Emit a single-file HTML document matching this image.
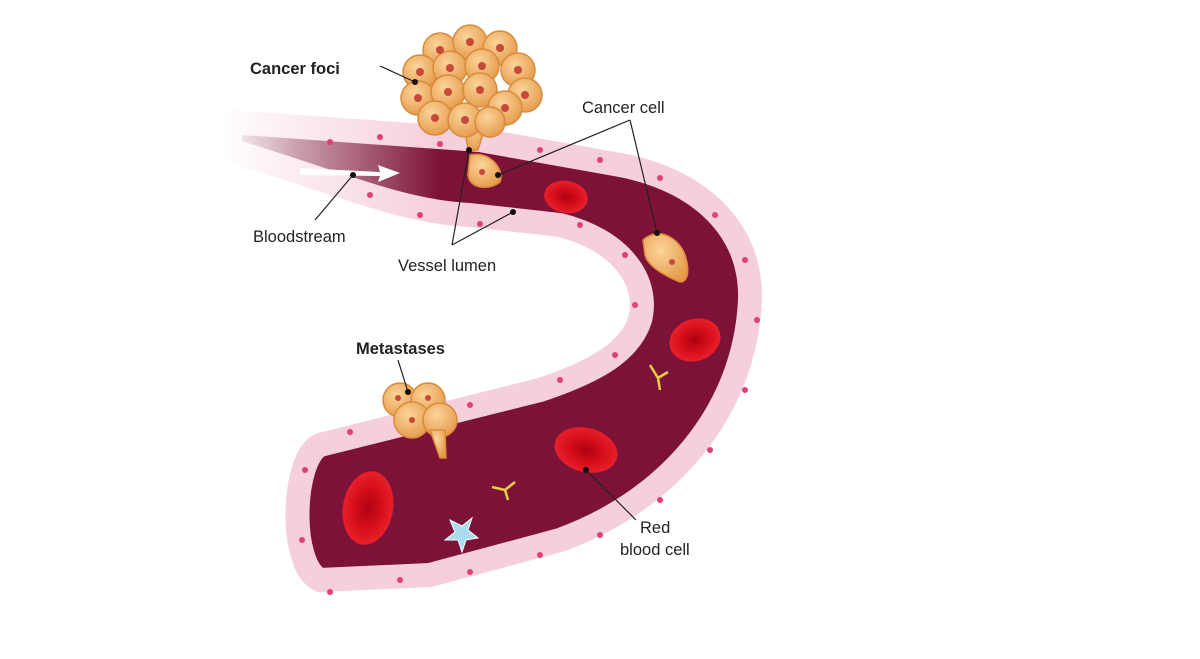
<!DOCTYPE html>
<html><head><meta charset="utf-8"><style>
html,body{margin:0;padding:0;background:#fff;width:1200px;height:659px;overflow:hidden}
text{font-family:"Liberation Sans",sans-serif;font-size:16.5px;fill:#222}
</style></head><body>
<svg width="1200" height="659" viewBox="0 0 1200 659" xmlns="http://www.w3.org/2000/svg">
<defs>
<linearGradient id="fade" x1="220" y1="0" x2="440" y2="0" gradientUnits="userSpaceOnUse">
<stop offset="0" stop-color="#fff" stop-opacity="1"/><stop offset="0.35" stop-color="#fff" stop-opacity="0.6"/><stop offset="1" stop-color="#fff" stop-opacity="0"/></linearGradient>
<radialGradient id="cell" cx="0.4" cy="0.35" r="0.7"><stop offset="0" stop-color="#fbd49a"/><stop offset="1" stop-color="#e59a4a"/></radialGradient>
<radialGradient id="rbc" cx="0.5" cy="0.5" r="0.5"><stop offset="0" stop-color="#b00010"/><stop offset="0.6" stop-color="#d8101c"/><stop offset="1" stop-color="#e8202a"/></radialGradient>
</defs>
<path d="M230 150 C330 180 400 212 470 215 L560 225 C620 240 650 280 640 320 C630 350 600 370 540 390 L400 425 L320 445 C292 458 288 565 320 580 L430 575 L560 540 C670 500 745 410 750 300 C752 230 700 180 620 165 L480 140 L230 122 Z" fill="#7d1238" stroke="#f6cfdc" stroke-width="24" stroke-linejoin="round"/>
<rect x="200" y="95" width="240" height="140" fill="url(#fade)"/>
<g fill="#e0407a">
<circle cx="330" cy="142" r="3"/><circle cx="380" cy="137" r="3"/><circle cx="440" cy="144" r="3"/><circle cx="540" cy="150" r="3"/><circle cx="600" cy="160" r="3"/><circle cx="660" cy="178" r="3"/><circle cx="715" cy="215" r="3"/><circle cx="745" cy="260" r="3"/><circle cx="757" cy="320" r="3"/><circle cx="745" cy="390" r="3"/><circle cx="710" cy="450" r="3"/><circle cx="660" cy="500" r="3"/><circle cx="600" cy="535" r="3"/><circle cx="540" cy="555" r="3"/><circle cx="470" cy="572" r="3"/><circle cx="400" cy="580" r="3"/><circle cx="330" cy="592" r="3"/><circle cx="302" cy="540" r="3"/><circle cx="305" cy="470" r="3"/><circle cx="350" cy="432" r="3"/><circle cx="470" cy="405" r="3"/><circle cx="560" cy="380" r="3"/><circle cx="615" cy="355" r="3"/><circle cx="635" cy="305" r="3"/><circle cx="625" cy="255" r="3"/><circle cx="580" cy="225" r="3"/><circle cx="480" cy="224" r="3"/><circle cx="420" cy="215" r="3"/><circle cx="370" cy="195" r="3"/>
</g>
<path d="M300 168 L380 172 L378 165 L400 173 L378 182 L380 176 L300 175Z" fill="#fff"/>
<ellipse cx="566" cy="197" rx="22" ry="16" fill="url(#rbc)" transform="rotate(10 566 197)"/>
<ellipse cx="695" cy="340" rx="26" ry="21" fill="url(#rbc)" transform="rotate(-20 695 340)"/>
<ellipse cx="586" cy="450" rx="32" ry="22" fill="url(#rbc)" transform="rotate(15 586 450)"/>
<ellipse cx="368" cy="508" rx="25" ry="37" fill="url(#rbc)" transform="rotate(10 368 508)"/>
<g stroke="#d98a3a" stroke-width="1.5" fill="url(#cell)">
<path d="M462 110 L468 150 L478 150 L490 110Z"/>
<circle cx="440" cy="50" r="17"/><circle cx="470" cy="42" r="17"/><circle cx="500" cy="48" r="17"/><circle cx="518" cy="70" r="17"/>
<circle cx="420" cy="72" r="17"/><circle cx="450" cy="68" r="17"/><circle cx="482" cy="66" r="17"/><circle cx="525" cy="95" r="17"/>
<circle cx="418" cy="98" r="17"/><circle cx="448" cy="92" r="17"/><circle cx="480" cy="90" r="17"/><circle cx="505" cy="108" r="17"/>
<circle cx="435" cy="118" r="17"/><circle cx="465" cy="120" r="17"/><circle cx="490" cy="122" r="15"/>
<path d="M470 155 C490 150 505 170 500 182 C490 190 470 190 468 175Z"/>
<path d="M643 240 C660 225 680 240 685 255 C690 270 688 282 680 282 C670 278 648 268 645 255Z"/>
<circle cx="400" cy="400" r="17"/><circle cx="428" cy="400" r="17"/><circle cx="412" cy="420" r="18"/><circle cx="440" cy="420" r="17"/>
<path d="M430 430 L440 458 L446 458 L445 430Z"/>
</g>
<g fill="#c8483a">
<circle cx="440" cy="50" r="4"/><circle cx="470" cy="42" r="4"/><circle cx="500" cy="48" r="4"/><circle cx="518" cy="70" r="4"/><circle cx="420" cy="72" r="4"/><circle cx="450" cy="68" r="4"/><circle cx="482" cy="66" r="4"/><circle cx="525" cy="95" r="4"/><circle cx="418" cy="98" r="4"/><circle cx="448" cy="92" r="4"/><circle cx="480" cy="90" r="4"/><circle cx="505" cy="108" r="4"/><circle cx="435" cy="118" r="4"/><circle cx="465" cy="120" r="4"/>
<circle cx="482" cy="172" r="3"/><circle cx="672" cy="262" r="3"/><circle cx="398" cy="398" r="3"/><circle cx="428" cy="398" r="3"/><circle cx="412" cy="420" r="3"/>
</g>
<g stroke="#e8d040" stroke-width="2.5" fill="none">
<path d="M650 365 L658 378 L668 372 M658 378 L660 390"/>
<path d="M492 487 L505 490 L515 482 M505 490 L508 500"/>
</g>
<path d="M450 520 L455 532 L445 540 L458 540 L462 552 L466 540 L478 538 L468 530 L472 518 L462 526Z" fill="#a8dcf0" stroke="#fff" stroke-width="1"/>
<g stroke="#222" stroke-width="1.2" fill="none">
<line x1="380" y1="66" x2="415" y2="82"/>
<line x1="630" y1="120" x2="498" y2="175"/><line x1="630" y1="120" x2="657" y2="233"/>
<line x1="452" y1="245" x2="469" y2="150"/><line x1="452" y1="245" x2="513" y2="212"/>
<line x1="315" y1="220" x2="353" y2="175"/>
<line x1="398" y1="360" x2="408" y2="392"/>
<line x1="636" y1="520" x2="586" y2="470"/>
</g>
<g fill="#111">
<circle cx="415" cy="82" r="3"/><circle cx="498" cy="175" r="3"/><circle cx="657" cy="233" r="3"/><circle cx="469" cy="150" r="3"/><circle cx="513" cy="212" r="3"/><circle cx="353" cy="175" r="3"/><circle cx="408" cy="392" r="3"/><circle cx="586" cy="470" r="3"/>
</g>
<text x="250" y="74" style="font-weight:bold">Cancer foci</text>
<text x="582" y="113">Cancer cell</text>
<text x="253" y="242">Bloodstream</text>
<text x="398" y="271">Vessel lumen</text>
<text x="356" y="354" style="font-weight:bold">Metastases</text>
<text x="640" y="533">Red</text>
<text x="620" y="555">blood cell</text>
</svg>
</body></html>
